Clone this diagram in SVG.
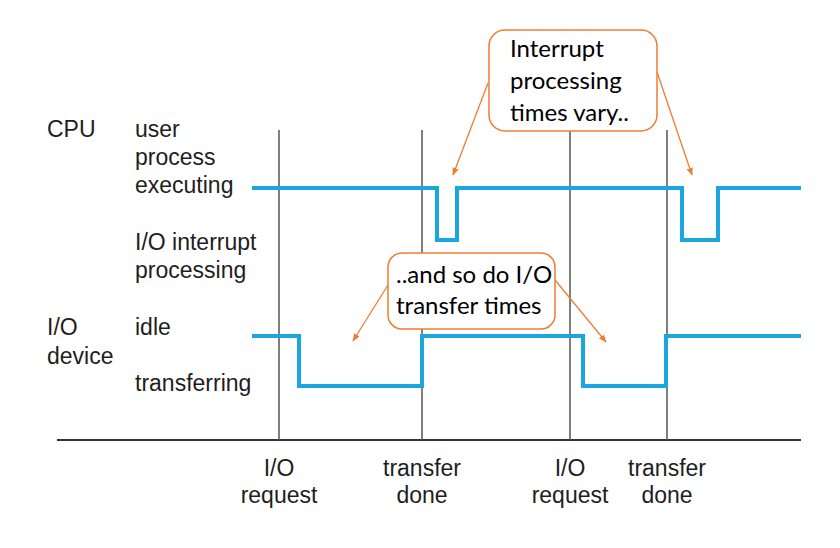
<svg xmlns="http://www.w3.org/2000/svg" width="840" height="548" viewBox="0 0 840 548">
<defs>
<style>
.lbl{font-family:"Liberation Sans",Arial,sans-serif;font-size:23px;fill:#1e1e1e}
.mid{text-anchor:middle}
.call{font-family:Lato,"Open Sans",sans-serif;font-size:24px;fill:#000}
.box{fill:#fff;stroke:#ed7d31;stroke-width:1.5}
.tick{stroke:#555;stroke-width:1.5;fill:none}
.wave{stroke:#1aa7e1;stroke-width:4;fill:none;stroke-linejoin:miter}
.arr{stroke:#ed7d31;stroke-width:1.3;fill:none;marker-end:url(#ah)}
</style>
<marker id="ah" viewBox="0 0 10 10" refX="9" refY="5" markerWidth="8" markerHeight="8" markerUnits="userSpaceOnUse" orient="auto">
<path d="M0,1 L10,5 L0,9 z" fill="#ed7d31"/>
</marker>
</defs>
<rect width="840" height="548" fill="#fff"/>
<g id="axes">
<line x1="57" y1="440" x2="801" y2="440" stroke="#333" stroke-width="2"/>
<line class="tick" x1="279" y1="130" x2="279" y2="440"/>
<line class="tick" x1="422" y1="130" x2="422" y2="440"/>
<line class="tick" x1="570" y1="130" x2="570" y2="440"/>
<line class="tick" x1="667" y1="130" x2="667" y2="440"/>
</g>
<g id="cpu-wave">
<polyline class="wave" points="252,188 437,188 437,240 457,240 457,188 682,188 682,240 718,240 718,188 801,188"/>
</g>
<g id="io-wave">
<polyline class="wave" points="252,336 299,336 299,386 422,386 422,336 583,336 583,386 666,386 666,336 801,336"/>
</g>
<g id="labels">
<text class="lbl" x="47" y="137">CPU</text>
<text class="lbl" x="135" y="137">user</text>
<text class="lbl" x="135" y="165">process</text>
<text class="lbl" x="135" y="193">executing</text>
<text class="lbl" x="135" y="250">I/O interrupt</text>
<text class="lbl" x="135" y="278">processing</text>
<text class="lbl" x="47" y="335">I/O</text>
<text class="lbl" x="47" y="364">device</text>
<text class="lbl" x="135" y="335">idle</text>
<text class="lbl" x="135" y="391">transferring</text>
<text class="lbl mid" x="279" y="476">I/O</text>
<text class="lbl mid" x="279" y="503">request</text>
<text class="lbl mid" x="422" y="476">transfer</text>
<text class="lbl mid" x="422" y="503">done</text>
<text class="lbl mid" x="570" y="476">I/O</text>
<text class="lbl mid" x="570" y="503">request</text>
<text class="lbl mid" x="667" y="476">transfer</text>
<text class="lbl mid" x="667" y="503">done</text>
</g>
<g id="connectors">
<line class="arr" x1="488" y1="83" x2="453" y2="175"/>
<line class="arr" x1="657" y1="72" x2="692" y2="175"/>
<line class="arr" x1="388" y1="285" x2="353" y2="341"/>
<line class="arr" x1="555" y1="280" x2="606" y2="342"/>
</g>
<g id="callout-interrupt">
<rect class="box" x="489" y="30" width="168" height="101" rx="16"/>
<text class="call" x="510" y="57">Interrupt</text>
<text class="call" x="510" y="89">processing</text>
<text class="call" x="510" y="121">times vary..</text>
</g>
<g id="callout-transfer">
<rect class="box" x="388" y="253" width="167" height="76" rx="14"/>
<text class="call" x="396" y="283">..and so do I/O</text>
<text class="call" x="396" y="314">transfer times</text>
</g>
</svg>
